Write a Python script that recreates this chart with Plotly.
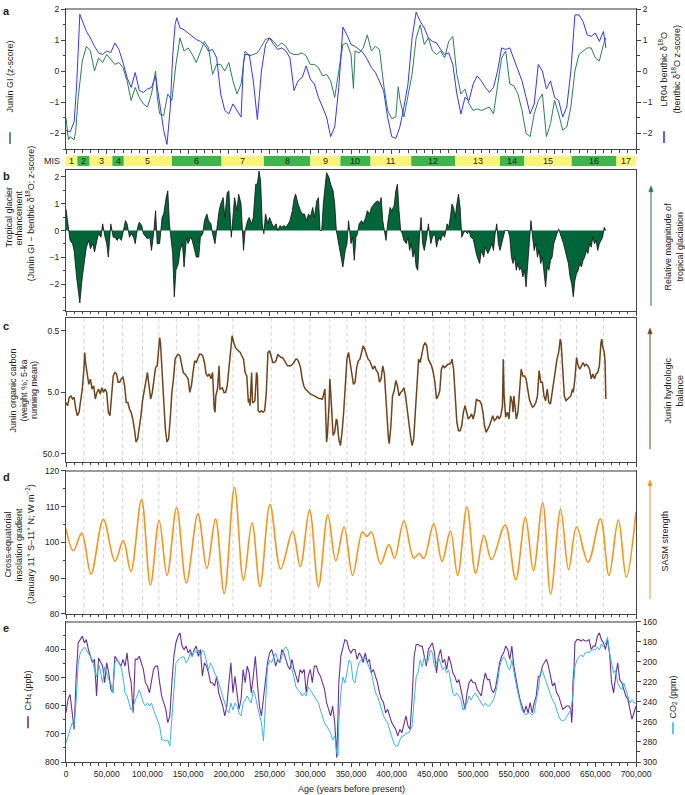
import plotly.graph_objects as go

FONT = "Liberation Sans, Arial, Helvetica, sans-serif"

# ---------------- DATA (ages in ka) ----------------
# Panel a: Junin glacial index (z-score)
gi_pts = [(0,-1.5),(3,-2.2),(5,-2.1),(10,-2.2),(12,-1.9),(15,-0.84),(20,0.33),(25,0.8),(30,0.65),(35,0.01),(40,0.43),(45,0.28),(50,0.54),(55,0.38),(60,0.22),(65,0.28),(70,0.12),(75,-0.31),(80,-0.94),(85,-0.52),(90,-0.84),(95,-1.05),(100,-1.15),(105,-0.73),(108,-0.3),(110,0.01),(112,-0.8),(115,-1.37),(120,-1.42),(125,-0.73),(130,-0.94),(135,0.22),(140,1.07),(145,0.65),(150,0.75),(155,0.54),(160,0.28),(165,0.65),(170,0.96),(175,0.75),(180,-0.1),(185,0.22),(190,0.22),(195,0.01),(200,0.28),(205,-0.31),(210,-0.73),(215,-0.41),(220,0.65),(225,0.49),(230,0.54),(235,0.59),(240,0.8),(245,1.02),(250,1.07),(255,0.96),(260,0.8),(265,0.91),(270,0.8),(275,0.59),(280,0.54),(285,0.54),(290,0.59),(295,0.49),(300,0.22),(305,0.22),(310,0.12),(315,-0.15),(320,-0.1),(325,-0.31),(330,-0.84),(335,0.01),(340,0.86),(345,0.9),(350,0.54),(353,-0.55),(355,0.65),(360,0.59),(365,0.75),(370,1.17),(375,0.65),(380,0.8),(385,0.7),(390,-0.41),(395,-1.26),(400,-1.52),(405,-1.47),(408,-0.5),(410,-0.9),(415,-1.47),(420,-0.84),(425,-0.1),(430,1.07),(435,1.49),(440,0.86),(445,1.07),(450,0.65),(455,0.54),(460,0.65),(465,0.43),(470,0.96),(475,1.12),(480,-0.1),(485,-0.73),(490,-0.57),(495,-1.05),(500,-1.26),(505,-1.21),(510,-1.26),(515,-1.21),(520,-1.15),(525,-1.37),(530,-0.41),(535,0.43),(540,0.65),(545,-0.41),(550,-0.47),(555,-0.73),(560,-1.26),(565,-2.0),(570,-2.1),(575,-1.37),(580,-0.94),(585,-0.73),(590,-2.1),(595,-1.68),(600,-0.94),(605,-1.37),(610,-1.89),(615,-1.79),(620,-1.15),(625,0.01),(630,0.54),(635,0.65),(640,0.75),(645,0.75),(650,0.43),(655,0.33),(660,0.86),(663,1.07)]

# Panel a: LR04 benthic d18O (z-score)
lr_pts = [(0,-1.9),(5,-1.95),(10,-1.63),(13,-0.5),(17,1.83),(20,1.6),(25,1.28),(30,1.07),(35,0.8),(40,0.59),(45,0.54),(50,0.65),(55,0.6),(60,0.91),(65,0.7),(70,0.28),(75,-0.2),(80,-0.52),(85,-0.04),(90,-0.62),(95,-0.68),(100,-0.57),(105,-0.52),(110,-0.15),(115,-1.05),(120,-1.9),(124,-2.35),(128,-1.2),(131,0.5),(134,1.5),(136,1.72),(140,1.39),(145,1.33),(150,1.23),(155,1.12),(160,1.02),(165,0.96),(170,0.86),(175,0.65),(180,0.7),(185,0.43),(190,-0.73),(195,-1.26),(200,-1.37),(205,-1.05),(210,-1.26),(215,-1.47),(218,0.3),(220,0.54),(225,0.54),(230,-0.31),(235,-1.55),(240,0.01),(245,0.86),(250,1.07),(255,0.86),(260,0.7),(265,0.75),(270,0.65),(275,0.43),(280,-0.62),(285,-0.31),(290,-0.2),(295,0.17),(300,-0.25),(305,-0.41),(310,-0.84),(315,-1.15),(320,-1.47),(325,-2.1),(330,-1.79),(335,-0.52),(340,1.42),(345,1.17),(350,0.86),(355,0.8),(360,0.7),(365,0.59),(370,0.38),(375,0.12),(380,-0.04),(385,-0.31),(390,-0.62),(395,-1.47),(400,-2.1),(405,-2.16),(410,-1.79),(415,-1.15),(420,-0.41),(425,1.07),(430,1.9),(435,1.6),(440,1.39),(445,1.07),(450,0.96),(455,0.91),(460,0.7),(465,0.54),(470,0.59),(475,0.22),(480,-0.73),(485,-1.37),(490,-0.84),(495,-0.94),(500,-0.41),(505,-0.15),(510,-0.31),(515,-0.52),(520,-0.68),(525,-0.52),(530,0.01),(535,0.75),(540,0.7),(545,0.75),(550,0.38),(555,0.01),(560,-0.31),(565,-0.84),(570,-1.37),(575,-1.05),(580,0.22),(585,0.01),(590,-0.57),(595,-0.31),(600,-0.84),(605,-0.94),(610,-1.47),(615,-1.15),(620,0.01),(625,1.81),(630,1.81),(635,1.6),(640,1.17),(645,1.12),(650,1.23),(655,0.96),(660,1.28),(663,0.75)]

# Marine isotope stages
mis_bounds = [0, 14, 29, 57, 71, 130, 191, 243, 300, 337, 374, 424, 478, 533, 563, 621, 676, 700]
mis_labels = ["1","2","3","4","5","6","7","8","9","10","11","12","13","14","15","16","17"]

# Panel b: tropical glacier enhancement (z-score)
tge_pts = [(0,0.8),(3,0),(5,-0.37),(8,-0.49),(10,-0.74),(13,-1.73),(15,-2.22),(17,-2.7),(20,-1.73),(23,-0.99),(25,-0.62),(28,-0.37),(30,-0.68),(33,-0.49),(35,-0.8),(38,-0.37),(40,-0.12),(43,-0.25),(45,0.25),(48,-0.25),(50,-0.49),(52,-0.99),(55,0.25),(58,-0.25),(60,-0.25),(63,-0.37),(65,-0.25),(68,-0.37),(70,-0.12),(73,0.37),(75,0.25),(78,-0.25),(80,-0.12),(83,-0.25),(85,-0.49),(88,0.12),(90,0.31),(93,0.19),(95,-0.12),(98,-0.25),(100,-0.31),(103,-0.25),(105,-0.74),(108,0),(110,0.74),(112,-0.49),(115,-0.49),(118,0.49),(120,0.62),(123,1.23),(125,1.48),(127,0.25),(129,-0.25),(131,-0.86),(133,-2.47),(135,-1.48),(138,-1.23),(140,-0.74),(143,-0.49),(145,-1.36),(148,-0.25),(150,-0.49),(153,-0.25),(155,-0.37),(158,-0.74),(160,-0.99),(163,-0.99),(165,-0.25),(168,-0.12),(170,0.37),(173,0.62),(175,0.37),(178,0.25),(180,-0.12),(183,-0.49),(185,0),(188,0.74),(190,0.99),(193,1.23),(195,0.49),(198,1.42),(200,1.48),(203,-0.25),(205,0.49),(207,1.23),(210,0.74),(212,1.36),(215,0.99),(218,-0.74),(220,0),(223,0.37),(225,0.49),(228,0.25),(230,0.49),(233,1.73),(235,1.73),(237,2.22),(239,1.85),(241,0.25),(243,-0.12),(245,0.62),(248,0.25),(250,0.49),(253,0.25),(255,0.12),(258,0.25),(260,0),(263,0.19),(265,0.12),(268,0.19),(270,0.12),(273,0.25),(275,0.37),(278,0.74),(280,1.17),(282,1.36),(285,0.99),(288,0.74),(290,0.62),(293,0.62),(295,0.37),(298,0.62),(300,0.49),(303,0.86),(305,0.49),(308,1.11),(310,1.23),(312,0),(314,0),(316,0.99),(318,1.48),(320,2.16),(323,1.98),(325,1.73),(328,1.48),(330,0.99),(332,0),(335,-0.49),(338,-1.11),(340,-1.36),(343,-0.74),(345,-0.5),(347,0.37),(350,-0.49),(352,-0.25),(354,-1.11),(356,-0.25),(358,-0.12),(360,0.25),(363,0.37),(365,0.25),(368,0.49),(370,0.74),(373,0.62),(375,0.86),(378,0.99),(380,1.05),(383,1.11),(385,0.99),(387,1.23),(389,0.37),(391,0),(393,-0.37),(395,0.25),(398,0.86),(400,0.74),(403,0.93),(405,1.48),(407,1.73),(409,0.74),(411,0),(413,-0.12),(415,-0.37),(418,-0.49),(420,-0.25),(422,-0.74),(424,-0.49),(426,-0.99),(428,-0.74),(430,-1.36),(432,-1.48),(434,-0.25),(436,0.49),(438,-0.49),(440,-0.74),(443,-0.25),(445,0.25),(448,-0.49),(450,-0.25),(453,-0.12),(455,-0.62),(458,-0.25),(460,-0.37),(463,-0.12),(465,-0.25),(468,0.25),(470,0.12),(472,0.49),(474,0.99),(476,0.86),(478,0.49),(480,0.99),(482,1.36),(484,0.86),(486,-0.25),(488,-0.12),(490,0),(493,-0.12),(495,0),(497,-0.25),(500,-0.31),(503,-0.74),(505,-0.99),(508,-1.23),(510,-0.74),(513,-0.99),(515,-0.62),(518,-0.86),(520,-0.74),(523,-0.49),(525,-0.74),(527,-0.12),(529,0.25),(531,-0.49),(533,-0.74),(535,-0.49),(537,-0.25),(539,0),(541,0),(543,0),(545,-0.25),(547,-0.99),(549,-1.23),(551,-0.99),(553,-1.48),(555,-1.23),(557,-1.48),(559,-1.36),(561,-1.73),(563,-1.48),(565,-2.1),(567,-1.23),(569,-0.49),(571,0.37),(573,-0.25),(575,-0.74),(577,-0.49),(579,-0.99),(581,-0.74),(583,-1.23),(585,-0.99),(587,-1.48),(589,-2.1),(591,-1.36),(593,-1.48),(595,-1.11),(597,-0.99),(599,-0.49),(601,-0.25),(603,-0.12),(605,0.06),(607,-0.12),(609,-0.25),(611,-0.49),(613,-0.74),(615,-0.99),(617,-1.23),(619,-1.73),(621,-1.98),(623,-2.47),(625,-1.85),(627,-1.6),(629,-1.48),(631,-1.23),(633,-1.36),(635,-1.11),(637,-0.99),(639,-0.74),(641,-0.86),(643,-0.49),(645,-0.62),(647,-0.25),(649,-0.49),(651,-0.37),(653,-0.74),(655,-0.49),(657,-0.37),(659,-0.25),(661,0.12),(663,0)]

# Panel c: Junin organic carbon (weight %, 5-ka running mean)
oc_pts = [(0,7.3),(2,8.2),(4,6.0),(6,5.7),(8,6.4),(10,6.0),(12,9.3),(14,12),(16,10.5),(18,6.4),(20,4.4),(22,2.1),(23,1.12),(24,1.63),(26,2.7),(28,3.7),(30,3.04),(32,4.4),(34,3.9),(36,6.4),(38,5.0),(40,4.4),(42,5.3),(44,4.2),(46,5.0),(48,4.4),(50,5.0),(52,10.5),(54,12),(56,5),(58,2.7),(60,2.37),(62,2.5),(64,3.4),(66,3.4),(68,3.0),(70,2.85),(72,3.9),(74,7.3),(76,7.3),(78,9.3),(80,10.5),(82,13.5),(84,19.7),(86,32),(88,28.6),(90,19.7),(92,12),(94,6.8),(96,5),(98,3.4),(100,2.37),(102,3.9),(104,6.4),(106,5),(108,3.0),(110,1.97),(112,1.85),(114,0.875),(115,0.64),(116,0.77),(118,2.1),(120,6.4),(122,19.7),(124,32),(126,28.6),(128,13.5),(130,5),(132,3.0),(134,1.44),(136,1.28),(138,1.2),(140,1.28),(142,1.85),(144,2.37),(146,2.5),(148,2.7),(150,3.0),(152,5.0),(154,3.9),(156,2.37),(158,1.53),(160,1.63),(162,1.44),(164,1.2),(166,1.2),(168,1.28),(170,1.63),(172,2.5),(174,2.7),(176,2.5),(178,3.0),(180,2.37),(182,9.3),(183,10.5),(184,5.7),(186,4.4),(188,1.85),(189,4.4),(190,4.4),(192,4.2),(194,5.0),(196,5),(198,3.9),(200,2.1),(202,0.875),(204,0.6),(206,0.77),(208,0.93),(210,1.0),(212,1.05),(214,1.12),(216,1.28),(218,1.44),(220,2.37),(222,2.7),(224,7.3),(225,6.4),(226,8.2),(228,2.37),(229,7.3),(230,7.3),(232,6.8),(233,3.0),(234,2.37),(235,2.7),(236,9.9),(238,10.5),(240,9.9),(242,10.5),(244,9.9),(246,5.0),(247,1.44),(248,1.12),(250,1.05),(252,1.28),(254,1.63),(256,1.63),(258,1.53),(260,1.2),(262,1.28),(264,1.35),(266,1.35),(268,1.53),(270,1.63),(272,1.85),(274,1.85),(276,1.85),(278,1.74),(280,1.63),(282,1.44),(284,1.44),(286,1.63),(288,1.97),(290,3.0),(292,3.9),(294,4.4),(296,4.7),(298,5.0),(300,5.3),(305,5.7),(310,6.2),(315,6.4),(318,4.4),(320,32),(321,25),(323,8.2),(324,3.0),(326,8.2),(328,25),(330,22.3),(332,13.5),(333,14.5),(335,28.6),(337,36.6),(339,22.3),(341,10.5),(343,3.4),(345,1.44),(347,1.12),(349,1.63),(351,2.37),(353,3.7),(355,3.4),(357,1.97),(359,1.53),(361,1.44),(363,1.12),(365,0.875),(367,1.0),(369,1.2),(371,1.44),(373,1.53),(375,1.74),(377,2.1),(379,1.85),(381,2.2),(383,2.37),(385,3.4),(387,3.0),(389,1.85),(391,2.5),(393,7.3),(395,17.4),(396,28.6),(397,34),(399,17.4),(401,5.7),(403,4.7),(405,3.2),(407,3.9),(409,5.7),(411,5.0),(413,4.7),(415,4.2),(417,5.7),(419,9.3),(421,17.4),(423,25),(425,36.6),(427,28.6),(429,10.5),(431,3.0),(433,1.44),(435,1.63),(437,1.2),(439,0.875),(441,0.77),(443,0.875),(445,1.44),(447,1.63),(449,1.85),(451,2.37),(453,3.4),(455,6.4),(457,5.7),(459,4.7),(461,2.1),(463,1.85),(465,1.97),(467,1.85),(469,1.74),(471,1.74),(473,1.63),(474,1.44),(476,2.1),(478,5.7),(480,15.4),(482,21),(484,21),(486,17.4),(488,10.5),(490,8.2),(492,10.5),(494,13.5),(496,12.6),(498,11.2),(500,13.5),(502,10.5),(504,6.4),(506,6.8),(508,6.8),(510,7.7),(512,10.5),(514,17.4),(516,22.3),(518,19.7),(520,17.4),(522,14.4),(524,12),(526,14.4),(528,13.5),(530,12),(532,13.5),(534,12),(536,8.2),(537,1.44),(538,5.7),(540,12.6),(542,10.5),(544,13.5),(546,5.7),(548,7.3),(549,10.5),(550,5.7),(552,12),(553,13.5),(555,10.5),(557,5.0),(559,2.1),(561,2.7),(563,2.7),(565,3.0),(567,4.4),(569,6.4),(571,7.7),(573,8.7),(575,8.2),(577,7.3),(579,5.7),(581,2.2),(583,3.4),(585,3.4),(587,5.7),(589,6.8),(591,4.4),(593,7.3),(595,7.7),(597,5.0),(599,3.0),(601,1.85),(603,1.44),(605,1.12),(606,0.875),(607,0.68),(608,0.77),(610,2.7),(612,5.7),(614,6.8),(616,6.4),(618,6.0),(620,5.7),(622,4.4),(623,5.0),(625,3.0),(627,1.35),(629,1.85),(631,2.1),(633,1.85),(635,1.63),(637,1.85),(639,1.74),(641,1.85),(643,2.1),(645,3.0),(647,2.5),(649,3.0),(651,2.5),(653,2.37),(655,1.85),(657,0.77),(658,0.68),(659,0.875),(661,1.12),(662,1.53),(663,6.4)]

# Panel d: cross-equatorial insolation gradient (W m-2), turning points
ins_pts = [(0,103.8),(9.1,97.7),(19.3,102.6),(30.7,91.2),(45.8,106.5),(60.1,94.7),(70.3,100.5),(79.7,91.9),(92.7,112.0),(103.7,88.1),(114.3,106.2),(124.1,90.8),(135.9,109.7),(147.8,88.7),(162.0,108.0),(173.0,92.7),(183.6,106.6),(194.3,85.7),(206.9,115.4),(217.9,89.4),(228.5,105.5),(238.3,87.7),(250.5,110.7),(263.6,92.6),(278.3,103.1),(287.7,93.3),(299.1,109.1),(310.1,87.7),(321.5,107.7),(331.3,94.9),(341.5,104.3),(352.0,90.8),(363.9,102.9),(369.2,101.7),(374.9,102.9),(386.3,94.0),(396.5,99.4),(403.5,95.6),(414.9,106.0),(427.1,95.6),(433.6,96.9),(439.4,95.5),(451.6,105.2),(461.8,94.7),(472.0,103.2),(481.0,90.8),(492.4,109.9),(503.0,91.4),(513.2,101.9),(522.6,95.2),(539.3,104.9),(552.3,89.6),(564.2,107.0),(574.0,92.1),(585.4,111.1),(595.2,85.6),(607.4,109.3),(617.2,92.4),(627.0,104.4),(641.2,94.5),(656.3,106.6),(666.8,90.8),(678.3,106.3),(688.1,90.3),(700,108.6)]

# Dashed reference lines (ka) in panels c and d
grid_ages = [22, 46, 69.5, 94, 114, 135.5, 163, 205, 252, 280, 299.5, 324, 345, 368, 415, 451, 471, 490, 512, 539, 565, 585, 607, 627, 660]

# Panel e: CH4 (ppb)
ch4_pts = [(0,625),(2.5,577),(5,560),(7.5,625),(10,684),(12.5,495),(15,376),(17.5,365),(20,353),(22.5,376),(25,365),(27.5,400),(30,424),(32.5,447),(35,435),(37.5,565),(40,430),(42.5,447),(45,459),(47.5,518),(50,447),(52.5,483),(55,542),(57.5,554),(60,424),(62.5,435),(65,447),(67.5,459),(70,435),(72.5,459),(75,412),(77.5,483),(80,518),(82.5,625),(85,435),(87.5,435),(90,424),(92.5,447),(95,471),(97.5,518),(100,530),(102.5,554),(105,518),(107.5,471),(110,459),(112.5,459),(115,518),(117.5,565),(120,589),(122.5,613),(125,660),(127.5,636),(130,518),(132.5,424),(135,376),(137.5,353),(140,341),(142.5,388),(145,400),(147.5,388),(150,412),(152.5,400),(155,424),(157.5,400),(160,388),(162.5,424),(165,400),(167.5,495),(170,447),(172.5,459),(175,483),(177.5,518),(180,518),(182.5,530),(185,495),(187.5,554),(190,577),(192.5,601),(195,636),(197.5,601),(200,518),(202.5,447),(205,554),(207.5,495),(210,554),(212.5,613),(215,577),(217.5,471),(220,518),(222.5,459),(225,483),(227.5,554),(230,495),(232.5,424),(235,518),(237.5,601),(240,636),(242.5,577),(245,507),(247.5,447),(250,412),(252.5,400),(255,424),(257.5,459),(260,435),(262.5,447),(265,400),(267.5,412),(270,435),(272.5,459),(275,471),(277.5,435),(280,471),(282.5,495),(285,518),(287.5,471),(290,483),(292.5,471),(295,554),(297.5,495),(300,471),(302.5,518),(305,459),(307.5,459),(310,483),(312.5,495),(315,518),(317.5,542),(320,589),(322.5,613),(325,636),(327.5,601),(330,660),(331.5,731),(332.5,785),(334,636),(335,518),(337.5,424),(340,388),(342.5,365),(345,370),(347.5,400),(350,412),(352.5,400),(355,400),(357.5,435),(360,412),(362.5,424),(365,447),(367.5,412),(370,447),(372.5,435),(375,483),(377.5,471),(380,495),(382.5,518),(385,554),(387.5,577),(390,589),(392.5,625),(395,613),(397.5,636),(400,660),(402.5,672),(405,684),(407.5,707),(410,684),(412.5,696),(415,660),(417.5,636),(420,672),(422.5,684),(425,577),(427.5,424),(430,382),(432.5,382),(435,388),(437.5,388),(440,424),(442.5,459),(445,400),(447.5,388),(450,376),(452.5,412),(455,483),(457.5,424),(460,400),(462.5,447),(465,435),(467.5,471),(470,424),(472.5,447),(475,483),(477.5,495),(480,518),(482.5,507),(485,542),(487.5,589),(490,613),(492.5,554),(495,518),(497.5,507),(500,518),(502.5,518),(505,542),(507.5,554),(510,565),(512.5,518),(515,483),(517.5,507),(520,507),(522.5,542),(525,554),(527.5,536),(530,495),(532.5,447),(535,424),(537.5,412),(540,388),(542.5,400),(545,435),(547.5,388),(550,459),(552.5,507),(555,542),(557.5,577),(560,601),(562.5,625),(565,601),(567.5,625),(570,589),(572.5,625),(575,589),(577.5,565),(580,495),(582.5,495),(585,459),(587.5,447),(590,435),(592.5,459),(595,495),(597.5,530),(600,518),(602.5,554),(605,565),(607.5,589),(610,613),(612.5,607),(615,601),(617.5,601),(620,613),(621,660),(622,613),(622.5,518),(624,459),(625,376),(627.5,365),(630,365),(632.5,370),(635,365),(637.5,370),(640,370),(642.5,365),(645,400),(647.5,388),(650,388),(652.5,353),(655,341),(657.5,365),(660,376),(662.5,400),(665,365),(667.5,412),(670,518),(672.5,554),(675,495),(677.5,447),(680,507),(682.5,518),(685,542),(687.5,565),(690,577),(692.5,613),(695,648),(697.5,625),(700,601)]

# Panel e: CO2 (ppm)
co2_pts = [(0,281),(2.5,274),(5,268),(7.5,261),(10,264),(12.5,238),(15,201),(17.5,191),(20,188),(22.5,185),(25,188),(27.5,191),(30,195),(32.5,198),(35,208),(37.5,215),(40,201),(42.5,211),(45,221),(47.5,205),(50,211),(52.5,218),(55,221),(57.5,231),(60,201),(62.5,198),(65,201),(67.5,205),(70,215),(72.5,231),(75,234),(77.5,241),(80,248),(82.5,244),(85,238),(87.5,234),(90,228),(92.5,234),(95,241),(97.5,244),(100,241),(102.5,244),(105,241),(107.5,248),(110,254),(112.5,258),(115,264),(117.5,278),(120,278),(122.5,279),(125,278),(127.5,284),(130,254),(132.5,221),(135,201),(137.5,198),(140,196),(142.5,195),(145,195),(147.5,201),(150,198),(152.5,191),(155,195),(157.5,188),(160,191),(162.5,188),(165,195),(167.5,188),(170,191),(172.5,201),(175,208),(177.5,201),(180,205),(182.5,211),(185,215),(187.5,221),(190,228),(192.5,234),(195,241),(197.5,248),(200,251),(202.5,241),(205,248),(207.5,241),(210,244),(212.5,251),(215,254),(217.5,241),(220,238),(222.5,234),(225,238),(227.5,241),(230,228),(232.5,234),(235,244),(237.5,254),(240,261),(242.5,279),(245,241),(247.5,205),(250,198),(252.5,201),(255,195),(257.5,191),(260,198),(262.5,201),(265,195),(267.5,188),(270,185),(272.5,188),(275,198),(277.5,208),(280,215),(282.5,225),(285,228),(287.5,230),(290,234),(292.5,231),(295,234),(297.5,225),(300,228),(302.5,231),(305,234),(307.5,238),(310,241),(312.5,248),(315,254),(317.5,261),(320,264),(322.5,268),(325,271),(327.5,278),(330,274),(332.5,291),(334,294),(335,261),(337.5,231),(340,215),(342.5,221),(345,211),(347.5,198),(350,201),(352.5,218),(355,221),(357.5,208),(360,201),(362.5,198),(365,195),(367.5,196),(370,201),(372.5,205),(375,211),(377.5,221),(380,231),(382.5,234),(385,241),(387.5,248),(390,254),(392.5,258),(395,261),(397.5,268),(400,274),(402.5,281),(405,284),(407.5,284),(410,278),(412.5,274),(415,274),(417.5,271),(420,271),(422.5,269),(425,264),(427.5,234),(430,215),(432.5,210),(435,198),(437.5,205),(440,195),(442.5,201),(445,198),(447.5,188),(450,191),(452.5,205),(455,201),(457.5,195),(460,201),(462.5,208),(465,205),(467.5,211),(470,208),(472.5,221),(475,231),(477.5,234),(480,231),(482.5,234),(485,238),(487.5,248),(490,244),(492.5,241),(495,234),(497.5,238),(500,234),(502.5,231),(505,234),(507.5,238),(510,241),(512.5,244),(515,241),(517.5,244),(520,244),(522.5,241),(525,238),(527.5,231),(530,221),(532.5,205),(535,198),(537.5,195),(540,198),(542.5,205),(545,208),(547.5,198),(550,211),(552.5,221),(555,231),(557.5,241),(560,248),(562.5,251),(565,253),(567.5,251),(570,251),(572.5,253),(575,251),(577.5,238),(580,228),(582.5,211),(585,208),(587.5,215),(590,221),(592.5,225),(595,231),(597.5,238),(600,241),(602.5,248),(605,254),(607.5,258),(610,259),(612.5,258),(615,254),(617.5,251),(620,248),(622.5,234),(625,205),(627.5,198),(630,195),(632.5,193),(635,195),(637.5,191),(640,190),(642.5,191),(645,188),(647.5,188),(650,188),(652.5,185),(655,188),(657.5,182),(660,185),(662.5,182),(665,175),(667.5,191),(670,201),(672.5,211),(675,208),(677.5,221),(680,225),(682.5,228),(685,221),(687.5,228),(690,234),(692.5,241),(695,238),(697.5,241),(700,241)]

x_tickvals = [0, 50000, 100000, 150000, 200000, 250000, 300000, 350000, 400000, 450000, 500000, 550000, 600000, 650000, 700000]

# ---------------- LAYOUT GEOMETRY ----------------
W, H = 685, 795
L, R, T, B = 66, 49, 4, 33
PW, PH = W - L - R, H - T - B


def px(x):
    return (x - L) / PW


def py(y):
    return (H - B - y) / PH


def dom(top, bottom):
    return [py(bottom), py(top)]


def yrs(pts):
    return [p[0] * 1000 for p in pts]


def vals(pts):
    return [p[1] for p in pts]


AX = "#444444"
TXT = "#222222"
C_GI = "#2e7d57"
C_LR = "#3535ff"
C_TGE = "#00663a"
C_OC = "#6e441c"
C_INS = "#f7941d"
C_CH4 = "#6a3296"
C_CO2 = "#3cb4e6"
C_YEL = "#fff47a"
C_GRN = "#3db54a"

fig = go.Figure()

fig.add_trace(go.Scatter(x=yrs(gi_pts), y=vals(gi_pts), mode="lines",
                         line=dict(color=C_GI, width=1), xaxis="x", yaxis="y"))
fig.add_trace(go.Scatter(x=yrs(lr_pts), y=vals(lr_pts), mode="lines",
                         line=dict(color=C_LR, width=1), xaxis="x", yaxis="y2"))
fig.add_trace(go.Scatter(x=yrs(tge_pts), y=vals(tge_pts), mode="lines", fill="tozeroy",
                         fillcolor=C_TGE, line=dict(color="#111111", width=0.8),
                         xaxis="x2", yaxis="y3"))
fig.add_trace(go.Scatter(x=yrs(oc_pts), y=vals(oc_pts), mode="lines",
                         line=dict(color=C_OC, width=1.5), xaxis="x3", yaxis="y4"))
fig.add_trace(go.Scatter(x=yrs(ins_pts), y=vals(ins_pts), mode="lines",
                         line=dict(color=C_INS, width=1.6, shape="spline", smoothing=1.0),
                         xaxis="x4", yaxis="y5"))
fig.add_trace(go.Scatter(x=yrs(ch4_pts), y=vals(ch4_pts), mode="lines",
                         line=dict(color=C_CH4, width=1.1), xaxis="x5", yaxis="y6"))
fig.add_trace(go.Scatter(x=yrs(co2_pts), y=vals(co2_pts), mode="lines",
                         line=dict(color=C_CO2, width=1), xaxis="x5", yaxis="y7"))

tickfont = dict(family=FONT, size=8.5, color=TXT)


def xax(anchor, labels=False):
    d = dict(domain=[0, 1], anchor=anchor, range=[0, 700000], tickvals=x_tickvals,
             ticks="outside", ticklen=4, tickwidth=0.8, tickcolor=AX,
             showline=True, linecolor=AX, linewidth=1, mirror=True,
             showgrid=False, zeroline=False, showticklabels=labels,
             minor=dict(dtick=10000, tick0=0, ticks="outside", ticklen=2.5, tickwidth=0.7,
                        tickcolor=AX, showgrid=False),
             tickfont=tickfont)
    if labels:
        d["tickformat"] = ",d"
    return d


def yax(domain, rng, anchor, side="left", **kw):
    d = dict(domain=domain, range=rng, anchor=anchor, side=side,
             ticks="outside", ticklen=4, tickwidth=0.8, tickcolor=AX,
             showline=True, linecolor=AX, linewidth=1, mirror=True,
             showgrid=False, zeroline=False, tickfont=tickfont)
    d.update(kw)
    return d


dom_a = dom(4, 145)
dom_b = dom(166, 308)
dom_c = dom(315, 460)
dom_d = dom(469, 613)
dom_e = dom(621, 762)

minor_half = dict(dtick=0.5, tick0=0, ticks="outside", ticklen=2.5, tickwidth=0.7, tickcolor=AX, showgrid=False)

fig.update_layout(
    width=W, height=H,
    margin=dict(l=L, r=R, t=T, b=B),
    paper_bgcolor="white", plot_bgcolor="white",
    showlegend=False,
    hovermode=False,
    font=dict(family=FONT, size=9, color=TXT),
    xaxis=xax("y"),
    xaxis2=xax("y3"),
    xaxis3=xax("y4"),
    xaxis4=xax("y5"),
    xaxis5=xax("y6", labels=True),
    yaxis=yax(dom_a, [-2.5, 2], "x", tickvals=[-2, -1, 0, 1, 2], minor=minor_half),
    yaxis2=yax(dom_a, [-2.5, 2], "x", side="right", overlaying="y",
               tickvals=[-2, -1, 0, 1, 2], minor=minor_half),
    yaxis3=yax(dom_b, [-3.0, 2.26], "x2", tickvals=[-2, -1, 0, 1, 2], minor=minor_half),
    yaxis4=yax(dom_c, [1.83, -0.512], "x3", type="log",
               tickvals=[0.5, 5, 50], ticktext=["0.5", "5.0", "50.0"]),
    yaxis5=yax(dom_d, [80, 120], "x4", tickvals=[80, 90, 100, 110, 120],
               minor=dict(dtick=5, tick0=0, ticks="outside", ticklen=2.5, tickwidth=0.7,
                          tickcolor=AX, showgrid=False)),
    yaxis6=yax(dom_e, [800, 302], "x5", tickvals=[400, 500, 600, 700, 800],
               minor=dict(dtick=50, tick0=0, ticks="outside", ticklen=2.5, tickwidth=0.7,
                          tickcolor=AX, showgrid=False)),
    yaxis7=yax(dom_e, [300, 160], "x5", side="right", overlaying="y6",
               tickvals=[160, 180, 200, 220, 240, 260, 280, 300],
               minor=dict(dtick=10, tick0=0, ticks="outside", ticklen=2.5, tickwidth=0.7,
                          tickcolor=AX, showgrid=False)),
)

shapes = []
# MIS bar
for i, lab in enumerate(mis_labels):
    shapes.append(dict(type="rect", xref="x", yref="paper",
                       x0=mis_bounds[i] * 1000, x1=mis_bounds[i + 1] * 1000,
                       y0=py(162), y1=py(152),
                       fillcolor=C_YEL if (i % 2 == 0) else C_GRN,
                       line=dict(width=0), layer="above"))
# dashed reference lines in panels c and d
for g in grid_ages:
    for xr, yr in (("x3", "y4 domain"), ("x4", "y5 domain")):
        shapes.append(dict(type="line", xref=xr, yref=yr, x0=g * 1000, x1=g * 1000,
                           y0=0, y1=1, line=dict(color="#c9c9c9", width=0.8, dash="4px,3px"),
                           layer="below"))
# light-grey top rules of panels a, d and e
for yy in (4, 469, 621):
    shapes.append(dict(type="line", xref="paper", yref="paper", x0=0, x1=1,
                       y0=py(yy), y1=py(yy), line=dict(color="#9a9a9a", width=2)))
# small colour keys next to axis titles
for (xx, y0, y1, col) in ((10, 128, 140, C_GI), (664, 127, 139, C_LR),
                          (28, 716, 728, C_CH4), (673, 722, 734, C_CO2)):
    shapes.append(dict(type="line", xref="paper", yref="paper", x0=px(xx), x1=px(xx),
                       y0=py(y1), y1=py(y0), line=dict(color=col, width=1.6)))
# right-hand interpretive arrows (shaft + head)
for (xx, ytop, ybot, col) in ((651, 182, 303, "#1f7a4c"), (650, 325, 447, C_OC), (650, 478, 598, C_INS)):
    shapes.append(dict(type="line", xref="paper", yref="paper", x0=px(xx), x1=px(xx),
                       y0=py(ybot), y1=py(ytop + 4), line=dict(color=col, width=1)))
    shapes.append(dict(type="path", xref="paper", yref="paper",
                       path="M %f %f L %f %f L %f %f Z" % (px(xx - 2.2), py(ytop + 6),
                                                         px(xx), py(ytop),
                                                         px(xx + 2.2), py(ytop + 6)),
                       fillcolor=col, line=dict(color=col, width=0.5)))
fig.update_layout(shapes=shapes)

ann = []


def text(x, y, s, size=9, angle=0, color=TXT):
    ann.append(dict(x=px(x), y=py(y), xref="paper", yref="paper", text=s,
                    showarrow=False, textangle=angle, xanchor="center", yanchor="middle",
                    font=dict(family=FONT, size=size, color=color)))


# panel letters
for lab, yy in (("a", 6), ("b", 172), ("c", 323), ("d", 475), ("e", 627)):
    text(6, yy, "<b>%s</b>" % lab, size=11)

# MIS labels
text(52, 157, "MIS", size=9)
for i, lab in enumerate(mis_labels):
    ann.append(dict(x=(mis_bounds[i] + mis_bounds[i + 1]) / 2 * 1000, y=py(157),
                    xref="x", yref="paper", text=lab, showarrow=False,
                    xanchor="center", yanchor="middle",
                    font=dict(family=FONT, size=9, color=TXT)))

# axis titles (rotated, one annotation per line)
text(10, 72, "Junín GI (z-score)", angle=-90)
text(663, 65, "LR04 benthic δ<sup>18</sup>O", angle=-90)
text(676, 65, "(benthic δ<sup>18</sup>O z-score)", angle=-90)
text(9, 214, "Tropical glacier", angle=-90)
text(19, 214, "enhancement", angle=-90)
text(29.5, 210, "(Junín GI − benthic δ<sup>18</sup>O; z-score)", angle=-90)
text(13, 388, "Junín organic carbon", angle=-90)
text(24, 388, "(weight %; 5-ka", angle=-90)
text(34.5, 388, "running mean)", angle=-90)
text(8, 543, "Cross-equatorial", angle=-90)
text(19, 543, "insolation gradient", angle=-90)
text(30.5, 543, "(January 11° S–11° N; W m<sup>−2</sup>)", angle=-90)
text(28, 690, "CH<sub>4</sub> (ppb)", angle=-90)
text(673, 697, "CO<sub>2</sub> (ppm)", angle=-90)
text(351, 789, "Age (years before present)")

# right-hand interpretive labels
text(668, 243, "Relative magnitude of", angle=-90)
text(680, 243, "tropical glaciation", angle=-90)
text(668, 388, "Junín hydrologic", angle=-90)
text(680, 388, "balance", angle=-90)
text(665, 540, "SASM strength", angle=-90)

fig.update_layout(annotations=ann)

fig.write_html("out.html", config={"displayModeBar": False},
               post_script="document.body.style.margin='0px';")
